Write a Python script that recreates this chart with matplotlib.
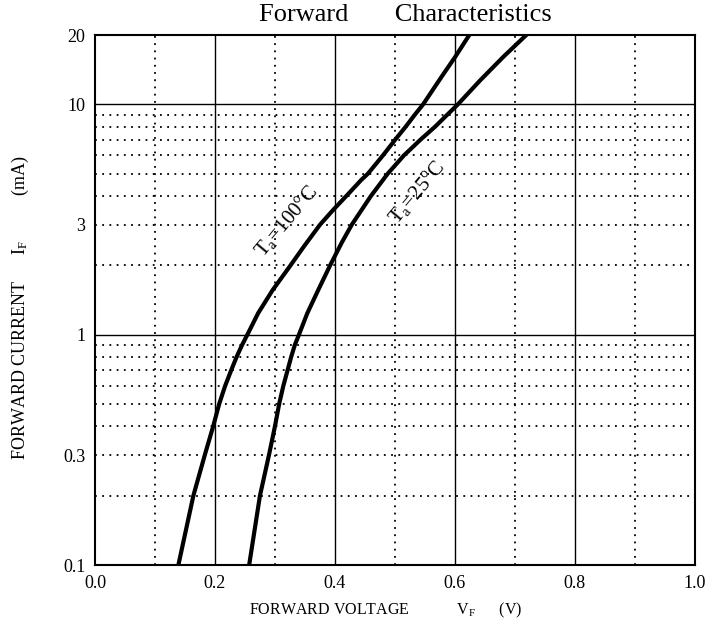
import numpy as np
import matplotlib
matplotlib.use('Agg')
import matplotlib.pyplot as plt
from matplotlib import rcParams

rcParams['font.family'] = 'Liberation Serif'
rcParams['mathtext.fontset'] = 'custom'
rcParams['mathtext.rm'] = 'Liberation Serif'
rcParams['mathtext.it'] = 'Liberation Serif'

# Ta = 100 C curve (V, mA)
v_100 = [0.139, 0.164, 0.183, 0.197, 0.207, 0.217, 0.227, 0.236, 0.245, 0.254,
         0.272, 0.296, 0.326, 0.348, 0.375, 0.397, 0.419, 0.444, 0.455, 0.480,
         0.500, 0.518, 0.533, 0.547, 0.578, 0.600, 0.624]
i_100 = [0.1, 0.2, 0.3, 0.4, 0.5, 0.6, 0.7, 0.8, 0.9, 1.0,
         1.24, 1.56, 2.0, 2.41, 3.0, 3.48, 4.0, 4.7, 5.0, 6.0,
         7.0, 8.0, 9.0, 10.0, 13.2, 16.0, 20.0]

# Ta = 25 C curve (V, mA)
v_25 = [0.257, 0.275, 0.290, 0.300, 0.307, 0.314, 0.321, 0.327, 0.333, 0.340,
        0.354, 0.372, 0.392, 0.411, 0.428, 0.460, 0.488, 0.515, 0.542, 0.567,
        0.587, 0.605, 0.642, 0.681, 0.719]
i_25 = [0.1, 0.2, 0.3, 0.4, 0.5, 0.6, 0.7, 0.8, 0.9, 1.0,
        1.24, 1.56, 2.0, 2.5, 3.0, 4.0, 5.0, 6.0, 7.0, 8.0,
        9.0, 10.0, 12.7, 16.1, 20.0]

x_major = [0.2, 0.4, 0.6, 0.8]
x_minor = [0.1, 0.3, 0.5, 0.7, 0.9]
x_ticks = [0.0, 0.2, 0.4, 0.6, 0.8, 1.0]
x_labels = ['0.0', '0.2', '0.4', '0.6', '0.8', '1.0']
y_major = [1, 10]
y_minor = [0.2, 0.3, 0.4, 0.5, 0.6, 0.7, 0.8, 0.9, 2, 3, 4, 5, 6, 7, 8, 9]
y_ticks = [0.1, 0.3, 1, 3, 10, 20]
y_labels = ['0.1', '0.3', '1', '3', '10', '20']

fig = plt.figure(figsize=(7.09, 6.32), dpi=100)
ax = fig.add_axes([0.134, 0.106, 0.846, 0.8386])
ax.set_yscale('log')
ax.set_xlim(0, 1.0)
ax.set_ylim(0.1, 20)

for x in x_major:
    ax.axvline(x, color='black', lw=1.0, zorder=1)
for x in x_minor:
    ax.axvline(x, color='black', lw=1.3, ls=(0, (1, 3)), zorder=1)
for y in y_major:
    ax.axhline(y, color='black', lw=1.0, zorder=1)
for y in y_minor:
    ax.axhline(y, color='black', lw=1.3, ls=(0, (1, 3)), zorder=1)

ax.plot(v_100, i_100, color='black', lw=3, solid_joinstyle='round', zorder=3)
ax.plot(v_25, i_25, color='black', lw=3, solid_joinstyle='round', zorder=3)

ax.text(0.318, 3.12, r'T$_{\rm a}$=100°C', rotation=50, fontsize=15,
        ha='center', va='center', zorder=4)
ax.text(0.537, 4.16, r'T$_{\rm a}$=25°C', rotation=50, fontsize=15,
        ha='center', va='center', zorder=4)

ax.set_xticks(x_ticks)
ax.set_xticklabels(x_labels)
ax.set_yticks(y_ticks)
ax.set_yticklabels(y_labels)
ax.minorticks_off()
ax.tick_params(length=0, labelsize=13, pad=7)
for s in ax.spines.values():
    s.set_linewidth(1.5)

fig.text(405 / 709, 1 - 15 / 632, 'Forward       Characteristics', fontsize=19,
         ha='center', va='center')
fig.text(386 / 709, 1 - 610 / 632,
         r'FORWARD VOLTAGE            V$_{\rm F}$      (V)',
         fontsize=11.5, ha='center', va='center')
fig.text(20 / 709, 1 - 308 / 632,
         r'FORWARD CURRENT      I$_{\rm F}$          (mA)',
         fontsize=13, ha='center', va='center', rotation=90)

fig.savefig('out.png', dpi=100)
